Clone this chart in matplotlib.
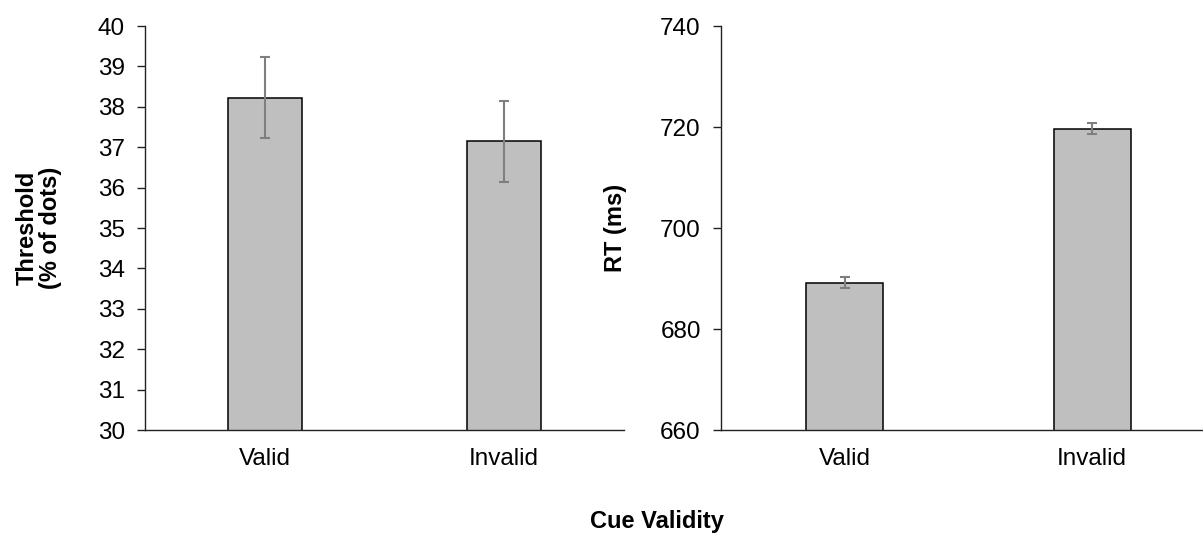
import matplotlib
matplotlib.use('Agg')
import matplotlib.pyplot as plt

plt.rcParams['font.family'] = ['Liberation Sans', 'DejaVu Sans']

categories = ['Valid', 'Invalid']
threshold_means = [38.23, 37.15]
threshold_err = [1.0, 1.0]
rt_means = [689.2, 719.7]
rt_err = [1.05, 1.0]

threshold_ticks = list(range(30, 41))
rt_ticks = [660, 680, 700, 720, 740]

BAR_COLOR = '#bfbfbf'
ERR_COLOR = '#7f7f7f'
TICK_FS = 17.5
LABEL_FS = 17


def draw_panel(ax, means, errs, ticks, ylabel, label_x):
    x = range(len(categories))
    ax.bar(x, means, width=0.31, color=BAR_COLOR, edgecolor='black', linewidth=1.1, zorder=2)
    ax.errorbar(x, means, yerr=errs, fmt='none', ecolor=ERR_COLOR, elinewidth=1.5,
                capsize=3.3, capthick=1.5, zorder=3)
    ax.set_xlim(-0.5, len(categories) - 0.5)
    ax.set_ylim(ticks[0], ticks[-1])
    ax.set_yticks(ticks)
    ax.set_xticks(list(x))
    ax.set_xticklabels(categories)
    for side in ['top', 'right']:
        ax.spines[side].set_visible(False)
    for side in ['left', 'bottom']:
        ax.spines[side].set_color('#222222')
        ax.spines[side].set_linewidth(1.0)
    ax.tick_params(axis='y', length=6, width=1.0, color='#222222', pad=8.5, labelsize=TICK_FS)
    ax.tick_params(axis='x', length=0, pad=13, labelsize=TICK_FS)
    ax.set_ylabel(ylabel, fontsize=LABEL_FS, fontweight='bold', va='center', linespacing=1.0)
    ax.yaxis.set_label_coords(label_x, 0.5)


fig = plt.figure(figsize=(12.03, 5.33), dpi=100)
ax1 = fig.add_axes([0.1205, 0.1932, 0.3982, 0.7580])
ax2 = fig.add_axes([0.5993, 0.1932, 0.4115, 0.7580])

draw_panel(ax1, threshold_means, threshold_err, threshold_ticks, 'Threshold\n(% of dots)', -0.221)
draw_panel(ax2, rt_means, rt_err, rt_ticks, 'RT (ms)', -0.214)

fig.text(0.546, 0.021, 'Cue Validity', ha='center', va='center', fontsize=LABEL_FS, fontweight='bold')

fig.savefig('out.png', dpi=100)
